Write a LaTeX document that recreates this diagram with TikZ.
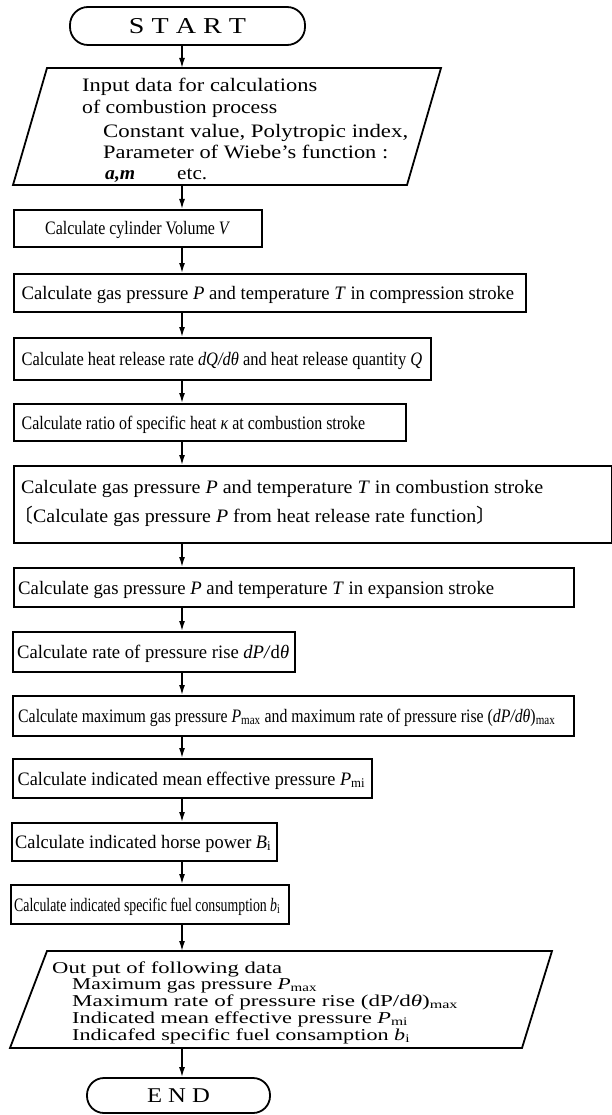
\documentclass[tikz,border=0pt]{standalone}
\usepackage{fontspec}
\setmainfont{Liberation Serif}
\newfontfamily\cjk{Noto Sans CJK JP}
\usepackage{graphicx}
\usetikzlibrary{arrows.meta}
\tikzset{
  box/.style={draw, line width=1.8pt, inner sep=0pt, anchor=north west},
  txt/.style={anchor=base west, inner sep=0pt, font=\fontsize{19}{22}\selectfont},
  otxt/.style={anchor=base west, inner sep=0pt, font=\fontsize{16.6}{19}\selectfont},
  arr/.style={line width=1.5pt, -{Latex[length=10pt,width=6pt]}},
  term/.style={draw, line width=1.8pt, inner sep=0pt},
  para/.style={draw, line width=1.8pt, line join=miter},
}
\newcommand{\fw}[2]{\resizebox{#1pt}{\height}{#2}}
\begin{document}
\begin{tikzpicture}[x=1pt,y=-1pt]
\useasboundingbox (0,0) rectangle (612,1115);
\coordinate (col) at (182,0);

% START
\node[term, rounded corners=18pt, minimum width=235pt, minimum height=38pt,
      font=\fontsize{22.7}{26}\selectfont] (start) at (187.5,26) {\fw{117}{S T A R T}};

% input parallelogram
\coordinate (iTL) at (47,68);
\coordinate (iTR) at (441,68);
\coordinate (iBR) at (407,185);
\coordinate (iBL) at (13,185);
\draw[para] (iTL) -- (iTR) -- (iBR) -- (iBL) -- cycle;
\node[txt] (i1) at (82,92) {\fw{235}{Input data for calculations}};
\node[txt] (i2) at (82,114) {\fw{195}{of combustion process}};
\node[txt] (i3) at (103,138) {\fw{305}{Constant value, Polytropic index,}};
\node[txt] (i4) at (103,159) {\fw{285}{Parameter of Wiebe’s function :}};
\node[txt] (i5a) at (105,180) {\fw{30}{\textbf{\textit{a,m}}}};
\node[txt] (i5b) at (177,180) {\fw{30}{etc.}};

% process boxes
\node[box, minimum width=248pt, minimum height=37pt] (b1) at (13,209) {};
\node[txt] (t1) at (45,235) {\fw{185}{Calculate cylinder Volume \textit{V}}};

\node[box, minimum width=512pt, minimum height=38pt] (b2) at (13,273) {};
\node[txt] (t2) at (21.5,299) {\fw{492.5}{Calculate gas pressure \textit{P} and temperature \textit{T} in compression stroke}};

\node[box, minimum width=417pt, minimum height=42pt] (b3) at (13,337) {};
\node[txt] (t3) at (21.5,365) {\fw{400.5}{Calculate heat release rate \textit{dQ/dθ} and heat release quantity \textit{Q}}};

\node[box, minimum width=392pt, minimum height=37pt] (b4) at (13,403) {};
\node[txt] (t4) at (21.5,429) {\fw{343.5}{Calculate ratio of specific heat \textit{κ} at combustion stroke}};

\node[box, minimum width=598pt, minimum height=77pt] (b5) at (13,465) {};
\node[txt] (t5a) at (21,493) {\fw{522}{Calculate gas pressure \textit{P} and temperature \textit{T} in combustion stroke}};
\node[txt] (t5b) at (23,522) {\fw{463}{{\cjk\hspace{-0.5em}〔}Calculate gas pressure \textit{P} from heat release rate function{\cjk 〕\hspace{-0.5em}}}};

\node[box, minimum width=560pt, minimum height=39pt] (b6) at (13,567) {};
\node[txt] (t6) at (18,594) {\fw{476}{Calculate gas pressure \textit{P} and temperature \textit{T} in expansion stroke}};

\node[box, minimum width=282pt, minimum height=40pt] (b7) at (12,631) {};
\node[txt] (t7) at (17,658) {\fw{272}{Calculate rate of pressure rise \textit{dP/}d\textit{θ}}};

\node[box, minimum width=561pt, minimum height=40pt] (b8) at (12,695) {};
\node[txt] (t8) at (18,722) {\fw{537}{Calculate maximum gas pressure \textit{P}\textsubscript{max} and maximum rate of pressure rise (\textit{dP/dθ})\textsubscript{max}}};

\node[box, minimum width=359pt, minimum height=39pt] (b9) at (12,758) {};
\node[txt] (t9) at (17.5,785) {\fw{347.5}{Calculate indicated mean effective pressure \textit{P}\textsubscript{mi}}};

\node[box, minimum width=265pt, minimum height=38pt] (b10) at (11,822) {};
\node[txt] (t10) at (15,848) {\fw{256}{Calculate indicated horse power \textit{B}\textsubscript{i}}};

\node[box, minimum width=278pt, minimum height=39pt] (b11) at (10,884) {};
\node[txt] (t11) at (14,911) {\fw{266}{Calculate indicated specific fuel consumption \textit{b}\textsubscript{i}}};

% output parallelogram
\coordinate (oTL) at (47,951);
\coordinate (oTR) at (552,951);
\coordinate (oBR) at (522,1048);
\coordinate (oBL) at (10,1048);
\draw[para] (oTL) -- (oTR) -- (oBR) -- (oBL) -- cycle;
\node[otxt] (o1) at (52,973) {\fw{230}{Out put of following data}};
\node[otxt] (o2) at (72,989) {\fw{245}{Maximum gas pressure \textit{P}\textsubscript{max}}};
\node[otxt] (o3) at (72,1006) {\fw{386}{Maximum rate of pressure rise (dP/d\textit{θ})\textsubscript{max}}};
\node[otxt] (o4) at (72,1023) {\fw{336}{Indicated mean effective pressure \textit{P}\textsubscript{mi}}};
\node[otxt] (o5) at (72,1040) {\fw{338}{Indicafed specific fuel consamption \textit{b}\textsubscript{i}}};

% END
\node[term, rounded corners=17pt, minimum width=183pt, minimum height=35pt,
      font=\fontsize{21}{24}\selectfont] (end) at (178.5,1095.5) {\fw{63}{E N D}};

% connectors
\draw[arr] (start.south -| col) -- (iTL -| col);
\draw[arr] (iBL -| col) -- (b1.north -| col);
\draw[arr] (b1.south -| col) -- (b2.north -| col);
\draw[arr] (b2.south -| col) -- (b3.north -| col);
\draw[arr] (b3.south -| col) -- (b4.north -| col);
\draw[arr] (b4.south -| col) -- (b5.north -| col);
\draw[arr] (b5.south -| col) -- (b6.north -| col);
\draw[arr] (b6.south -| col) -- (b7.north -| col);
\draw[arr] (b7.south -| col) -- (b8.north -| col);
\draw[arr] (b8.south -| col) -- (b9.north -| col);
\draw[arr] (b9.south -| col) -- (b10.north -| col);
\draw[arr] (b10.south -| col) -- (b11.north -| col);
\draw[arr] (b11.south -| col) -- (oTL -| col);
\draw[arr] (oBL -| col) -- (end.north -| col);
\end{tikzpicture}
\end{document}
